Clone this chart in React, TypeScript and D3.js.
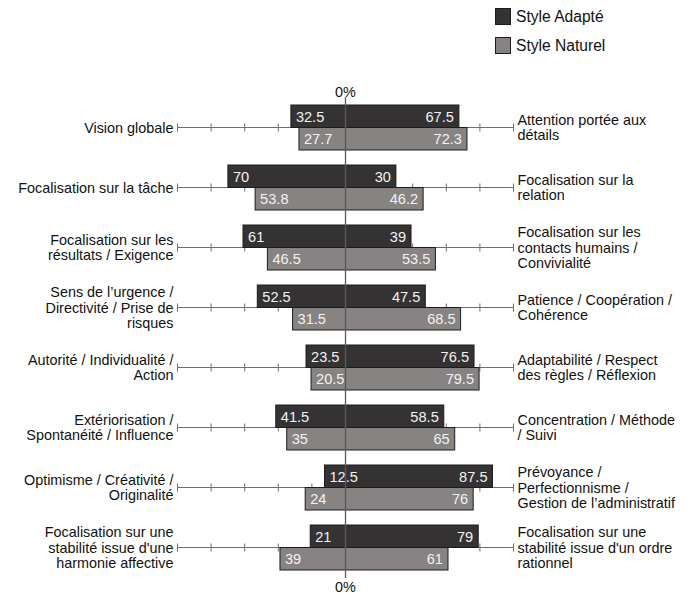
import React from "react";
import * as d3 from "d3";

// Row labels (left pole / right pole), split into drawn lines
const leftLabels: string[][] = [
  ["Vision globale"],
  ["Focalisation sur la tâche"],
  ["Focalisation sur les", "résultats / Exigence"],
  ["Sens de l’urgence /", "Directivité / Prise de", "risques"],
  ["Autorité / Individualité /", "Action"],
  ["Extériorisation /", "Spontanéité / Influence"],
  ["Optimisme / Créativité /", "Originalité"],
  ["Focalisation sur une", "stabilité issue d'une", "harmonie affective"],
];

const rightLabels: string[][] = [
  ["Attention portée aux", "détails"],
  ["Focalisation sur la", "relation"],
  ["Focalisation sur les", "contacts humains /", "Convivialité"],
  ["Patience / Coopération /", "Cohérence"],
  ["Adaptabilité / Respect", "des règles / Réflexion"],
  ["Concentration / Méthode", "/ Suivi"],
  ["Prévoyance /", "Perfectionnisme /", "Gestion de l’administratif"],
  ["Focalisation sur une", "stabilité issue d'un ordre", "rationnel"],
];

// Style Adapté
const adapteLeft = [32.5, 70, 61, 52.5, 23.5, 41.5, 12.5, 21];
const adapteRight = [67.5, 30, 39, 47.5, 76.5, 58.5, 87.5, 79];
// Style Naturel
const naturelLeft = [27.7, 53.8, 46.5, 31.5, 20.5, 35, 24, 39];
const naturelRight = [72.3, 46.2, 53.5, 68.5, 79.5, 65, 76, 61];

const seriesNames = ["Style Adapté", "Style Naturel"];
const tickValues = [-100, -80, -60, -40, -20, 0, 20, 40, 60, 80, 100];

const W = 687;
const H = 597;
const FONT = "'Liberation Sans', Arial, Helvetica, sans-serif";
const DARK = "#353233";
const LIGHT = "#878382";
const STROKE = "#1c1c1c";
const AXIS = "#6e6e6e";
const LABEL_SIZE = 14.4;

export default function App() {
  const x = d3.scaleLinear().domain([-100, 100]).range([177.5, 513.5]);
  const y = d3
    .scalePoint<number>()
    .domain(d3.range(leftLabels.length))
    .range([127.5, 547.5]);
  const barH = 22.5;
  const lineH = 15.2;

  const series = [
    { name: seriesNames[0], left: adapteLeft, right: adapteRight, fill: DARK, dy: -barH },
    { name: seriesNames[1], left: naturelLeft, right: naturelRight, fill: LIGHT, dy: 0 },
  ];

  const x0 = x(0);

  return (
    <svg
      width={W}
      height={H}
      style={{ position: "absolute", left: 0, top: 0, background: "#fff" }}
      fontFamily={FONT}
    >
      {/* legend */}
      {series.map((s, i) => (
        <g key={s.name} transform={`translate(495,${8 + i * 29})`}>
          <rect x={0.5} y={0.5} width={15} height={16} fill={s.fill} stroke={STROKE} />
          <text x={21} y={8.5} dominantBaseline="central" fontSize={15.6} fill="#111">
            {s.name}
          </text>
        </g>
      ))}

      {leftLabels.map((_, i) => {
        const cy = y(i)!;
        return (
          <g key={i}>
            {/* axis line with ticks */}
            <line x1={x(-100)} x2={x(100)} y1={cy} y2={cy} stroke={AXIS} strokeWidth={1} />
            {tickValues.map((t) => (
              <line
                key={t}
                x1={x(t)}
                x2={x(t)}
                y1={cy - 4}
                y2={cy + 4}
                stroke={AXIS}
                strokeWidth={1}
              />
            ))}
            {/* bars */}
            {series.map((s) => (
              <rect
                key={s.name}
                x={x(-s.left[i])}
                y={cy + s.dy}
                width={x(s.right[i]) - x(-s.left[i])}
                height={barH}
                fill={s.fill}
                stroke={STROKE}
                strokeWidth={1}
              />
            ))}
            {/* bar values */}
            {series.map((s) => (
              <g key={s.name + "v"} fontSize={14.6} fill="#f2f2f2">
                <text x={x(-s.left[i]) + 5} y={cy + s.dy + barH / 2 + 0.5} dominantBaseline="central">
                  {s.left[i]}
                </text>
                <text
                  x={x(s.right[i]) - 5}
                  y={cy + s.dy + barH / 2 + 0.5}
                  dominantBaseline="central"
                  textAnchor="end"
                >
                  {s.right[i]}
                </text>
              </g>
            ))}
            {/* pole labels */}
            <text x={x(-100) - 4} fontSize={LABEL_SIZE} fill="#111" textAnchor="end">
              {leftLabels[i].map((ln, k) => (
                <tspan
                  key={k}
                  x={x(-100) - 4}
                  y={cy + (k - (leftLabels[i].length - 1) / 2) * lineH}
                  dominantBaseline="central"
                >
                  {ln}
                </tspan>
              ))}
            </text>
            <text x={x(100) + 4} fontSize={LABEL_SIZE} fill="#111">
              {rightLabels[i].map((ln, k) => (
                <tspan
                  key={k}
                  x={x(100) + 4}
                  y={cy + (k - (rightLabels[i].length - 1) / 2) * lineH}
                  dominantBaseline="central"
                >
                  {ln}
                </tspan>
              ))}
            </text>
          </g>
        );
      })}

      {/* zero line */}
      <line x1={x0} x2={x0} y1={97} y2={578} stroke="#5a5a5a" strokeWidth={1.3} />
      <text x={x0} y={92} textAnchor="middle" dominantBaseline="central" fontSize={14.4} fill="#111">
        0%
      </text>
      <text x={x0} y={587} textAnchor="middle" dominantBaseline="central" fontSize={14.4} fill="#111">
        0%
      </text>
    </svg>
  );
}
